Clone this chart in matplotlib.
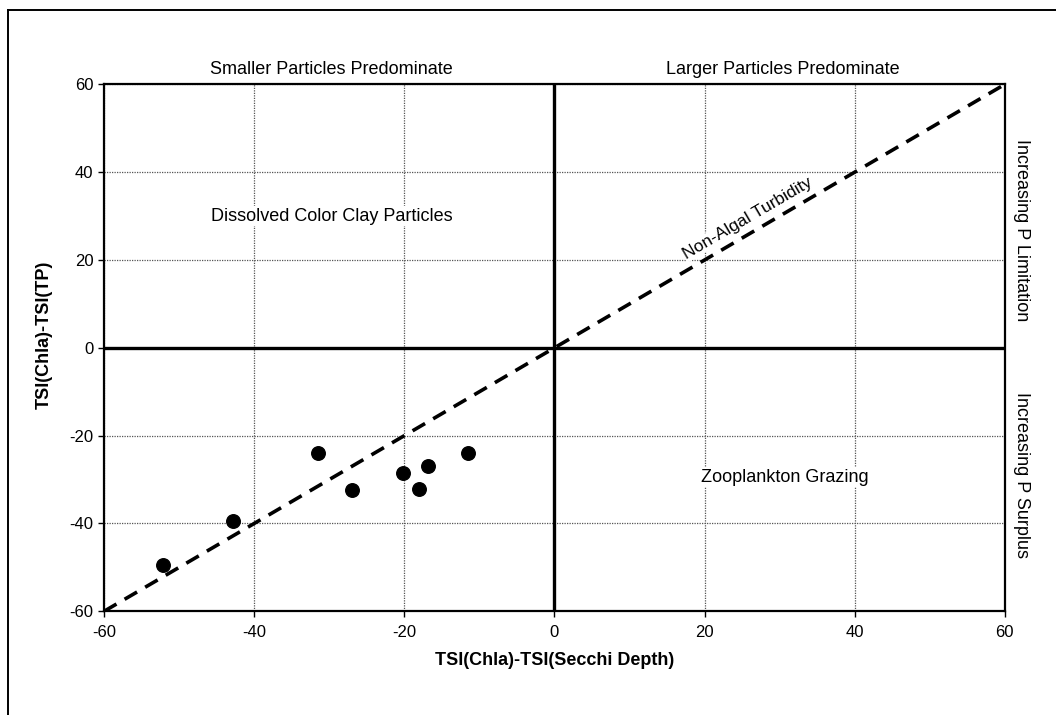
import matplotlib
matplotlib.use("Agg")
import matplotlib.pyplot as plt
from matplotlib.lines import Line2D

plt.rcParams['font.family'] = ['Liberation Sans', 'DejaVu Sans']
plt.rcParams['axes.unicode_minus'] = False

# lake data: TSI(Chla)-TSI(SD) vs TSI(Chla)-TSI(TP)
sd_diff = [-52.2, -42.8, -31.5, -26.9, -20.2, -18.0, -16.9, -11.5]
tp_diff = [-49.5, -39.5, -24.0, -32.3, -28.5, -32.2, -26.8, -23.9]

ticks = [-60, -40, -20, 0, 20, 40, 60]
diag = [-60, 60]

fig = plt.figure(figsize=(10.56, 7.15), dpi=100)
ax = fig.add_axes([0.0985, 0.145, 0.853, 0.737])

ax.set_xlim(-60, 60)
ax.set_ylim(-60, 60)
ax.set_xticks(ticks)
ax.set_yticks(ticks)
ax.tick_params(direction='out', length=4, width=1, labelsize=12, color='black')
ax.tick_params(axis='x', pad=6)
ax.grid(True, linestyle=(0, (1, 1)), color='#555555', linewidth=0.9)
ax.set_axisbelow(True)
for s in ax.spines.values():
    s.set_linewidth(1.6)

# quadrant lines
ax.axhline(0, color='black', linewidth=2.4)
ax.axvline(0, color='black', linewidth=2.4)

# 1:1 line
ax.plot(diag, diag, color='black', linewidth=2.6, linestyle=(0, (4, 2.6)))

ax.scatter(sd_diff, tp_diff, s=95, color='black', zorder=5)

ax.set_xlabel('TSI(Chla)-TSI(Secchi Depth)', fontsize=13, fontweight='bold')
ax.xaxis.set_label_coords(0.5, -0.077)
ax.set_ylabel('TSI(Chla)-TSI(TP)', fontsize=13, fontweight='bold')
ax.yaxis.set_label_coords(-0.057, 0.525)

# region annotations
ax.text(-29.7, 63.3, 'Smaller Particles Predominate', ha='center', va='center', fontsize=13,
        clip_on=False)
ax.text(30.4, 63.3, 'Larger Particles Predominate', ha='center', va='center', fontsize=13,
        clip_on=False)
ax.text(-29.7, 30, 'Dissolved Color Clay Particles', ha='center', va='center', fontsize=13,
        bbox=dict(facecolor='white', edgecolor='none', pad=1))
ax.text(30.7, -29.5, 'Zooplankton Grazing', ha='center', va='center', fontsize=13,
        bbox=dict(facecolor='white', edgecolor='none', pad=1))
ax.text(25.7, 29.5, 'Non-Algal Turbidity', ha='center', va='center', fontsize=12.5,
        rotation=30.3, rotation_mode='anchor',
        bbox=dict(facecolor='white', edgecolor='none', pad=0.5))
ax.text(62.2, 26.8, 'Increasing P Limitation', ha='center', va='center', fontsize=13,
        rotation=-90, clip_on=False)
ax.text(62.2, -28.9, 'Increasing P Surplus', ha='center', va='center', fontsize=13,
        rotation=-90, clip_on=False)

# outer frame from the scanned page
fig.add_artist(Line2D([0.008, 1.0], [0.986, 0.986], transform=fig.transFigure,
                      color='black', linewidth=1.4))
fig.add_artist(Line2D([0.008, 0.008], [0.0, 0.986], transform=fig.transFigure,
                      color='black', linewidth=1.4))

fig.savefig('out.png', dpi=100)
